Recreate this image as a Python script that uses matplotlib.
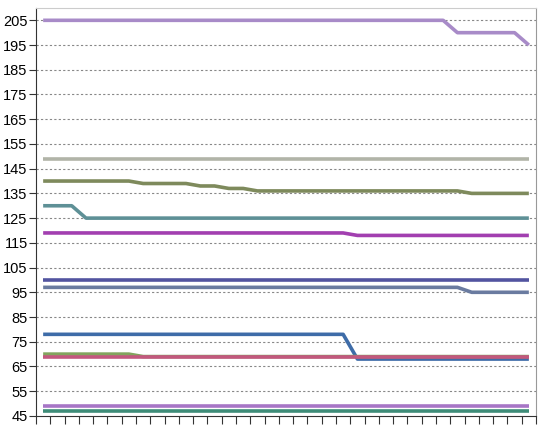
import matplotlib.pyplot as plt
import numpy as np

plt.rcParams['font.family'] = ['Liberation Sans', 'DejaVu Sans']

# 35 points per series
n_points = 35
x = np.arange(n_points)

s_top_purple = [205] * 29 + [200] * 5 + [195]
s_gray = [149] * 35
s_olive = [140] * 7 + [139] * 4 + [138] * 2 + [137] * 2 + [136] * 15 + [135] * 5
s_teal = [130] * 3 + [125] * 32
s_magenta = [119] * 22 + [118] * 13
s_indigo = [100] * 35
s_slate = [97] * 30 + [95] * 5
s_blue = [78] * 22 + [68] * 13
s_green = [70] * 7 + [69] * 28
s_pink = [69] * 35
s_low_purple = [49] * 35
s_low_teal = [47] * 35

series = [s_top_purple, s_gray, s_olive, s_teal, s_magenta, s_indigo,
          s_slate, s_blue, s_green, s_pink, s_low_purple, s_low_teal]
colors = ['#A88BC8', '#B1B4A8', '#7E8A5C', '#5E9096', '#A23FB0', '#5254A0',
          '#6A7BA0', '#3E6CA8', '#82A45E', '#C2587E', '#A776C6', '#3E8C78']

yticks = list(range(45, 206, 10))

fig = plt.figure(figsize=(5.54, 4.42), dpi=100)
ax = fig.add_axes([0.065, 0.059, 0.9025, 0.923])

for vals, c in zip(series, colors):
    ax.plot(x, vals, color=c, linewidth=2.6, solid_capstyle='butt')

ax.set_xlim(-0.5, n_points - 0.5)
ax.set_ylim(45, 210)
ax.set_yticks(yticks)
ax.set_xticks(np.arange(n_points + 1) - 0.5)
ax.set_xticklabels([])
ax.tick_params(axis='y', labelsize=10.5, length=5, color='#333333', pad=1)
ax.tick_params(axis='x', length=6, color='#333333')

for t in yticks[1:]:
    ax.axhline(t, color='#888888', linewidth=0.8, linestyle=(0, (2, 2)), zorder=0)

ax.spines['left'].set_color('#333333')
ax.spines['bottom'].set_color('#333333')
ax.spines['top'].set_color('#cccccc')
ax.spines['right'].set_color('#999999')

fig.savefig('out.png', dpi=100)
